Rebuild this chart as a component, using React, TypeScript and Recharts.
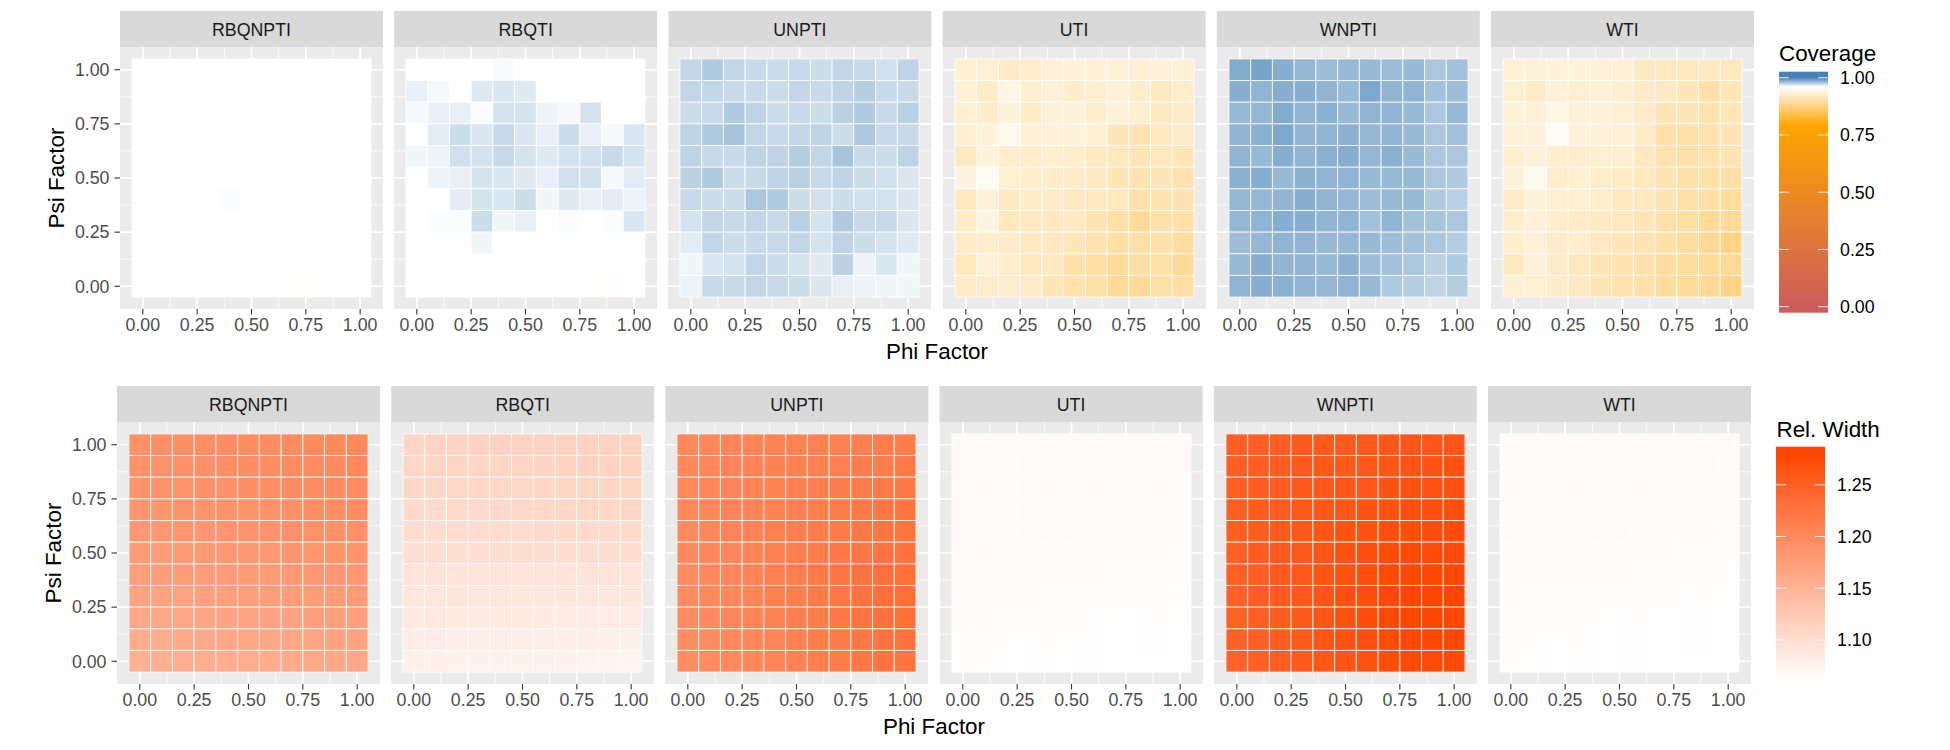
import React from 'react';
import { ComposedChart, XAxis, YAxis, CartesianGrid, ReferenceArea, Scatter } from 'recharts';

// ---------------- data ----------------
const methods = ['RBQNPTI', 'RBQTI', 'UNPTI', 'UTI', 'WNPTI', 'WTI'];
const phiValues = [0, 0.1, 0.2, 0.3, 0.4, 0.5, 0.6, 0.7, 0.8, 0.9, 1.0];
// rows listed from top (psi = 1.0) to bottom (psi = 0.0)
const psiValues = [1.0, 0.9, 0.8, 0.7, 0.6, 0.5, 0.4, 0.3, 0.2, 0.1, 0.0];
const axisTicks = [0, 0.25, 0.5, 0.75, 1];
const axisTickLabels = ['0.00', '0.25', '0.50', '0.75', '1.00'];
const minorTicks = [0.125, 0.375, 0.625, 0.875];
const coverageLegendBreaks = [0, 0.25, 0.5, 0.75, 1];
const coverageLegendLabels = ['0.00', '0.25', '0.50', '0.75', '1.00'];
const widthLegendBreaks = [1.1, 1.15, 1.2, 1.25];
const widthLegendLabels = ['1.10', '1.15', '1.20', '1.25'];

const coverageRBQNPTI = [
  [0.960, 0.960, 0.960, 0.960, 0.960, 0.960, 0.960, 0.960, 0.960, 0.960, 0.960],
  [0.960, 0.960, 0.960, 0.960, 0.960, 0.960, 0.960, 0.960, 0.960, 0.960, 0.960],
  [0.960, 0.960, 0.960, 0.960, 0.960, 0.960, 0.960, 0.960, 0.960, 0.960, 0.960],
  [0.960, 0.960, 0.960, 0.960, 0.960, 0.960, 0.960, 0.960, 0.960, 0.960, 0.960],
  [0.960, 0.960, 0.960, 0.960, 0.960, 0.960, 0.960, 0.960, 0.960, 0.960, 0.960],
  [0.960, 0.960, 0.960, 0.960, 0.960, 0.960, 0.960, 0.960, 0.960, 0.960, 0.960],
  [0.960, 0.960, 0.960, 0.960, 0.9608, 0.960, 0.960, 0.960, 0.960, 0.960, 0.960],
  [0.960, 0.960, 0.960, 0.960, 0.960, 0.960, 0.960, 0.960, 0.960, 0.960, 0.960],
  [0.960, 0.960, 0.960, 0.960, 0.960, 0.960, 0.960, 0.960, 0.960, 0.960, 0.960],
  [0.960, 0.960, 0.960, 0.960, 0.960, 0.960, 0.960, 0.960, 0.960, 0.960, 0.960],
  [0.960, 0.960, 0.960, 0.960, 0.960, 0.960, 0.960, 0.9595, 0.958, 0.9595, 0.960],
];
const coverageRBQTI = [
  [0.960, 0.960, 0.960, 0.960, 0.9615, 0.960, 0.960, 0.960, 0.960, 0.960, 0.960],
  [0.965, 0.962, 0.960, 0.967, 0.968, 0.967, 0.960, 0.960, 0.960, 0.960, 0.960],
  [0.962, 0.965, 0.965, 0.961, 0.969, 0.969, 0.964, 0.962, 0.969, 0.960, 0.960],
  [0.960, 0.966, 0.971, 0.968, 0.972, 0.968, 0.965, 0.971, 0.965, 0.962, 0.968],
  [0.963, 0.964, 0.970, 0.969, 0.972, 0.969, 0.967, 0.969, 0.970, 0.972, 0.969],
  [0.960, 0.964, 0.965, 0.969, 0.968, 0.967, 0.965, 0.970, 0.970, 0.962, 0.966],
  [0.960, 0.960, 0.966, 0.969, 0.968, 0.971, 0.963, 0.967, 0.965, 0.966, 0.964],
  [0.960, 0.961, 0.961, 0.971, 0.963, 0.965, 0.960, 0.961, 0.960, 0.961, 0.968],
  [0.960, 0.960, 0.960, 0.963, 0.960, 0.960, 0.960, 0.960, 0.960, 0.960, 0.960],
  [0.960, 0.960, 0.960, 0.960, 0.960, 0.960, 0.960, 0.960, 0.960, 0.960, 0.960],
  [0.960, 0.960, 0.960, 0.960, 0.960, 0.960, 0.960, 0.960, 0.958, 0.958, 0.960],
];
const coverageUNPTI = [
  [0.973, 0.977, 0.973, 0.972, 0.971, 0.972, 0.971, 0.973, 0.972, 0.970, 0.974],
  [0.973, 0.973, 0.972, 0.972, 0.971, 0.973, 0.972, 0.974, 0.976, 0.972, 0.972],
  [0.971, 0.972, 0.977, 0.974, 0.971, 0.972, 0.971, 0.975, 0.977, 0.972, 0.975],
  [0.974, 0.977, 0.979, 0.973, 0.972, 0.973, 0.974, 0.971, 0.978, 0.972, 0.972],
  [0.974, 0.972, 0.972, 0.974, 0.974, 0.976, 0.973, 0.979, 0.972, 0.971, 0.974],
  [0.975, 0.977, 0.971, 0.972, 0.974, 0.975, 0.972, 0.974, 0.971, 0.970, 0.968],
  [0.972, 0.971, 0.971, 0.978, 0.977, 0.971, 0.970, 0.971, 0.970, 0.969, 0.968],
  [0.969, 0.973, 0.972, 0.973, 0.972, 0.975, 0.969, 0.977, 0.972, 0.972, 0.968],
  [0.966, 0.973, 0.971, 0.972, 0.972, 0.973, 0.969, 0.974, 0.971, 0.969, 0.967],
  [0.963, 0.968, 0.969, 0.973, 0.971, 0.969, 0.967, 0.975, 0.964, 0.968, 0.963],
  [0.964, 0.972, 0.972, 0.973, 0.972, 0.971, 0.968, 0.965, 0.964, 0.963, 0.963],
];
const coverageUTI = [
  [0.931, 0.929, 0.923, 0.926, 0.933, 0.936, 0.933, 0.933, 0.931, 0.936, 0.933],
  [0.933, 0.923, 0.943, 0.929, 0.933, 0.926, 0.929, 0.933, 0.926, 0.919, 0.926],
  [0.929, 0.926, 0.936, 0.923, 0.933, 0.936, 0.926, 0.933, 0.929, 0.919, 0.923],
  [0.929, 0.936, 0.948, 0.933, 0.936, 0.936, 0.929, 0.912, 0.909, 0.919, 0.923],
  [0.919, 0.936, 0.926, 0.926, 0.929, 0.926, 0.919, 0.916, 0.912, 0.916, 0.912],
  [0.940, 0.952, 0.929, 0.926, 0.926, 0.923, 0.919, 0.912, 0.909, 0.912, 0.906],
  [0.919, 0.933, 0.919, 0.923, 0.923, 0.919, 0.919, 0.916, 0.902, 0.909, 0.906],
  [0.923, 0.940, 0.916, 0.919, 0.919, 0.919, 0.909, 0.902, 0.892, 0.902, 0.902],
  [0.923, 0.926, 0.923, 0.919, 0.919, 0.912, 0.906, 0.899, 0.902, 0.902, 0.895],
  [0.916, 0.933, 0.926, 0.916, 0.919, 0.902, 0.899, 0.892, 0.899, 0.902, 0.889],
  [0.923, 0.926, 0.926, 0.923, 0.912, 0.906, 0.902, 0.892, 0.892, 0.902, 0.899],
];
const coverageWNPTI = [
  [0.987, 0.989, 0.986, 0.983, 0.981, 0.982, 0.982, 0.981, 0.982, 0.978, 0.980],
  [0.986, 0.984, 0.986, 0.986, 0.984, 0.982, 0.988, 0.984, 0.984, 0.980, 0.981],
  [0.982, 0.983, 0.987, 0.984, 0.985, 0.982, 0.984, 0.984, 0.982, 0.978, 0.982],
  [0.984, 0.985, 0.988, 0.984, 0.984, 0.985, 0.983, 0.984, 0.982, 0.978, 0.980],
  [0.984, 0.982, 0.986, 0.984, 0.985, 0.986, 0.983, 0.985, 0.982, 0.978, 0.978],
  [0.985, 0.986, 0.982, 0.985, 0.984, 0.984, 0.982, 0.982, 0.982, 0.978, 0.977],
  [0.983, 0.983, 0.984, 0.986, 0.984, 0.983, 0.981, 0.982, 0.982, 0.977, 0.975],
  [0.983, 0.984, 0.986, 0.986, 0.984, 0.984, 0.980, 0.984, 0.980, 0.979, 0.978],
  [0.981, 0.983, 0.984, 0.984, 0.982, 0.983, 0.982, 0.981, 0.980, 0.978, 0.976],
  [0.982, 0.986, 0.984, 0.984, 0.982, 0.985, 0.981, 0.980, 0.978, 0.975, 0.977],
  [0.984, 0.986, 0.985, 0.984, 0.983, 0.984, 0.982, 0.977, 0.976, 0.974, 0.976],
];
const coverageWTI = [
  [0.933, 0.933, 0.936, 0.936, 0.933, 0.933, 0.919, 0.916, 0.916, 0.919, 0.916],
  [0.929, 0.923, 0.933, 0.929, 0.933, 0.929, 0.923, 0.919, 0.912, 0.902, 0.912],
  [0.933, 0.933, 0.943, 0.933, 0.936, 0.929, 0.923, 0.912, 0.912, 0.906, 0.912],
  [0.933, 0.936, 0.952, 0.936, 0.933, 0.933, 0.923, 0.902, 0.902, 0.906, 0.909],
  [0.929, 0.936, 0.926, 0.926, 0.929, 0.929, 0.919, 0.906, 0.902, 0.906, 0.909],
  [0.936, 0.950, 0.926, 0.929, 0.926, 0.923, 0.916, 0.909, 0.902, 0.902, 0.902],
  [0.923, 0.936, 0.929, 0.929, 0.926, 0.919, 0.916, 0.909, 0.902, 0.899, 0.895],
  [0.926, 0.933, 0.926, 0.923, 0.919, 0.916, 0.912, 0.902, 0.899, 0.892, 0.892],
  [0.926, 0.933, 0.923, 0.926, 0.916, 0.912, 0.909, 0.902, 0.895, 0.889, 0.878],
  [0.919, 0.936, 0.923, 0.916, 0.912, 0.909, 0.902, 0.895, 0.895, 0.892, 0.889],
  [0.929, 0.929, 0.923, 0.919, 0.912, 0.906, 0.902, 0.895, 0.892, 0.889, 0.878],
];

const widthRBQNPTI = [
  [1.192, 1.193, 1.193, 1.194, 1.195, 1.196, 1.197, 1.198, 1.199, 1.200, 1.201],
  [1.190, 1.191, 1.192, 1.193, 1.194, 1.195, 1.196, 1.197, 1.198, 1.199, 1.200],
  [1.188, 1.189, 1.190, 1.191, 1.192, 1.193, 1.194, 1.195, 1.196, 1.197, 1.198],
  [1.185, 1.186, 1.187, 1.188, 1.189, 1.190, 1.191, 1.192, 1.193, 1.194, 1.195],
  [1.182, 1.183, 1.184, 1.185, 1.186, 1.187, 1.188, 1.189, 1.190, 1.191, 1.192],
  [1.178, 1.179, 1.180, 1.181, 1.182, 1.183, 1.184, 1.185, 1.186, 1.187, 1.188],
  [1.174, 1.175, 1.176, 1.177, 1.178, 1.179, 1.180, 1.181, 1.182, 1.183, 1.184],
  [1.169, 1.170, 1.171, 1.172, 1.173, 1.174, 1.175, 1.176, 1.177, 1.178, 1.179],
  [1.164, 1.165, 1.166, 1.167, 1.168, 1.169, 1.170, 1.171, 1.172, 1.173, 1.174],
  [1.159, 1.160, 1.161, 1.162, 1.163, 1.164, 1.165, 1.166, 1.167, 1.168, 1.169],
  [1.154, 1.155, 1.156, 1.157, 1.158, 1.159, 1.160, 1.161, 1.162, 1.163, 1.164],
];
const widthRBQTI = [
  [1.110, 1.111, 1.111, 1.112, 1.112, 1.113, 1.113, 1.114, 1.114, 1.115, 1.115],
  [1.108, 1.109, 1.109, 1.110, 1.110, 1.111, 1.111, 1.112, 1.112, 1.113, 1.113],
  [1.106, 1.107, 1.107, 1.108, 1.108, 1.108, 1.109, 1.109, 1.109, 1.110, 1.110],
  [1.104, 1.104, 1.105, 1.105, 1.105, 1.106, 1.106, 1.106, 1.107, 1.107, 1.107],
  [1.101, 1.101, 1.102, 1.102, 1.102, 1.102, 1.103, 1.103, 1.103, 1.103, 1.103],
  [1.098, 1.098, 1.098, 1.098, 1.099, 1.099, 1.099, 1.099, 1.099, 1.099, 1.099],
  [1.094, 1.094, 1.094, 1.094, 1.094, 1.094, 1.094, 1.094, 1.094, 1.094, 1.094],
  [1.090, 1.090, 1.090, 1.090, 1.090, 1.089, 1.089, 1.089, 1.089, 1.089, 1.089],
  [1.086, 1.086, 1.086, 1.085, 1.085, 1.085, 1.085, 1.084, 1.084, 1.084, 1.084],
  [1.082, 1.082, 1.081, 1.081, 1.081, 1.080, 1.080, 1.079, 1.079, 1.078, 1.078],
  [1.078, 1.078, 1.077, 1.077, 1.076, 1.076, 1.075, 1.075, 1.074, 1.074, 1.073],
];
const widthUNPTI = [
  [1.201, 1.203, 1.205, 1.207, 1.208, 1.209, 1.210, 1.211, 1.212, 1.214, 1.216],
  [1.201, 1.203, 1.205, 1.207, 1.209, 1.210, 1.211, 1.212, 1.214, 1.216, 1.218],
  [1.200, 1.203, 1.205, 1.207, 1.209, 1.211, 1.212, 1.214, 1.216, 1.218, 1.220],
  [1.200, 1.203, 1.205, 1.207, 1.209, 1.211, 1.213, 1.216, 1.218, 1.221, 1.223],
  [1.199, 1.202, 1.205, 1.207, 1.210, 1.212, 1.214, 1.217, 1.220, 1.223, 1.225],
  [1.199, 1.202, 1.204, 1.207, 1.210, 1.213, 1.216, 1.219, 1.222, 1.226, 1.228],
  [1.198, 1.201, 1.204, 1.207, 1.210, 1.213, 1.217, 1.221, 1.224, 1.229, 1.230],
  [1.198, 1.200, 1.203, 1.206, 1.210, 1.213, 1.217, 1.221, 1.225, 1.230, 1.231],
  [1.197, 1.199, 1.202, 1.205, 1.209, 1.212, 1.216, 1.220, 1.224, 1.229, 1.230],
  [1.196, 1.198, 1.201, 1.204, 1.207, 1.211, 1.214, 1.218, 1.222, 1.226, 1.228],
  [1.195, 1.197, 1.200, 1.203, 1.206, 1.209, 1.213, 1.216, 1.220, 1.224, 1.226],
];
const widthUTI = [
  [1.067, 1.067, 1.067, 1.066, 1.067, 1.067, 1.067, 1.067, 1.066, 1.066, 1.066],
  [1.067, 1.067, 1.066, 1.066, 1.066, 1.067, 1.067, 1.066, 1.066, 1.066, 1.066],
  [1.066, 1.067, 1.066, 1.066, 1.066, 1.066, 1.066, 1.066, 1.066, 1.066, 1.065],
  [1.066, 1.066, 1.066, 1.066, 1.066, 1.066, 1.066, 1.066, 1.066, 1.065, 1.065],
  [1.066, 1.066, 1.066, 1.066, 1.066, 1.066, 1.065, 1.065, 1.065, 1.065, 1.065],
  [1.066, 1.066, 1.065, 1.065, 1.065, 1.065, 1.065, 1.065, 1.065, 1.065, 1.064],
  [1.065, 1.065, 1.065, 1.065, 1.065, 1.065, 1.065, 1.064, 1.064, 1.064, 1.064],
  [1.065, 1.065, 1.065, 1.065, 1.064, 1.064, 1.064, 1.064, 1.064, 1.064, 1.063],
  [1.065, 1.065, 1.064, 1.064, 1.064, 1.064, 1.063, 1.063, 1.063, 1.063, 1.063],
  [1.064, 1.064, 1.063, 1.063, 1.063, 1.063, 1.063, 1.062, 1.062, 1.062, 1.062],
  [1.064, 1.063, 1.063, 1.063, 1.062, 1.062, 1.062, 1.061, 1.061, 1.061, 1.061],
];
const widthWNPTI = [
  [1.250, 1.252, 1.254, 1.256, 1.257, 1.258, 1.259, 1.260, 1.261, 1.262, 1.262],
  [1.250, 1.252, 1.254, 1.256, 1.258, 1.259, 1.260, 1.262, 1.263, 1.264, 1.264],
  [1.250, 1.252, 1.255, 1.257, 1.259, 1.261, 1.262, 1.264, 1.266, 1.267, 1.267],
  [1.250, 1.253, 1.255, 1.258, 1.260, 1.262, 1.264, 1.267, 1.269, 1.270, 1.270],
  [1.250, 1.253, 1.256, 1.259, 1.261, 1.264, 1.267, 1.270, 1.272, 1.273, 1.273],
  [1.249, 1.253, 1.256, 1.259, 1.262, 1.266, 1.269, 1.273, 1.275, 1.276, 1.276],
  [1.249, 1.252, 1.256, 1.259, 1.263, 1.267, 1.271, 1.275, 1.278, 1.279, 1.279],
  [1.248, 1.252, 1.255, 1.259, 1.263, 1.268, 1.272, 1.277, 1.280, 1.281, 1.280],
  [1.247, 1.251, 1.254, 1.258, 1.262, 1.267, 1.272, 1.277, 1.279, 1.280, 1.279],
  [1.246, 1.250, 1.253, 1.257, 1.261, 1.265, 1.270, 1.274, 1.277, 1.278, 1.277],
  [1.245, 1.249, 1.252, 1.256, 1.259, 1.263, 1.267, 1.271, 1.274, 1.275, 1.274],
];
const widthWTI = [
  [1.066, 1.066, 1.067, 1.067, 1.067, 1.067, 1.066, 1.066, 1.066, 1.066, 1.066],
  [1.066, 1.066, 1.066, 1.067, 1.067, 1.066, 1.066, 1.066, 1.066, 1.066, 1.065],
  [1.066, 1.066, 1.066, 1.066, 1.066, 1.066, 1.066, 1.066, 1.065, 1.065, 1.065],
  [1.066, 1.066, 1.066, 1.066, 1.066, 1.066, 1.066, 1.065, 1.065, 1.065, 1.065],
  [1.066, 1.065, 1.066, 1.066, 1.066, 1.066, 1.065, 1.065, 1.065, 1.065, 1.064],
  [1.065, 1.065, 1.065, 1.065, 1.065, 1.065, 1.065, 1.065, 1.064, 1.064, 1.064],
  [1.065, 1.065, 1.065, 1.065, 1.065, 1.065, 1.064, 1.064, 1.064, 1.064, 1.063],
  [1.065, 1.064, 1.064, 1.064, 1.064, 1.064, 1.064, 1.064, 1.063, 1.063, 1.063],
  [1.064, 1.064, 1.064, 1.064, 1.063, 1.063, 1.063, 1.063, 1.063, 1.062, 1.062],
  [1.064, 1.063, 1.063, 1.063, 1.063, 1.062, 1.062, 1.062, 1.062, 1.062, 1.061],
  [1.063, 1.063, 1.063, 1.062, 1.062, 1.062, 1.062, 1.061, 1.061, 1.061, 1.060],
];

const coverageGrids = [coverageRBQNPTI, coverageRBQTI, coverageUNPTI, coverageUTI, coverageWNPTI, coverageWTI];
const widthGrids = [widthRBQNPTI, widthRBQTI, widthUNPTI, widthUTI, widthWNPTI, widthWTI];

// ---------------- styling / layout ----------------
const FONT = '"Liberation Sans", Arial, Helvetica, sans-serif';
const TICK_FS = 17.8;
const TITLE_FS = 22.4;
const PW = 263;
const PH = 262;
const XH = 34;
const YW = 70;
const PITCH = 274.2;
const DOMAIN: [number, number] = [-0.105, 1.105];
const HALF = 0.05;

const coverageStops: [number, string][] = [
  [0, '#CD5C5C'],
  [0.79, '#FFA500'],
  [0.96, '#FFFFFF'],
  [1.0, '#4682B4'],
];

function hexToRgb(h: string) {
  const n = parseInt(h.slice(1), 16);
  return [(n >> 16) & 255, (n >> 8) & 255, n & 255];
}
function rgbToHex(c: number[]) {
  return '#' + c.map((x) => Math.round(Math.max(0, Math.min(255, x))).toString(16).padStart(2, '0')).join('');
}
function mixHex(a: string, b: string, t: number) {
  const A = hexToRgb(a);
  const B = hexToRgb(b);
  return rgbToHex([0, 1, 2].map((i) => A[i] + (B[i] - A[i]) * t));
}
function coverageColor(v: number) {
  const x = Math.max(0, Math.min(1, v));
  for (let i = 0; i < coverageStops.length - 1; i++) {
    const [a, ca] = coverageStops[i];
    const [b, cb] = coverageStops[i + 1];
    if (x >= a && x <= b) return mixHex(ca, cb, (x - a) / (b - a));
  }
  return coverageStops[coverageStops.length - 1][1];
}
const allWidths = widthGrids.flat(2);
const widthMin = Math.min(...allWidths);
const widthMax = Math.max(...allWidths);
function widthColor(v: number) {
  const t = Math.max(0, Math.min(1, (v - widthMin) / (widthMax - widthMin)));
  return mixHex('#FFFFFF', '#FF4500', t);
}

function buildCells(grid: number[][]) {
  const out: { phi: number; psi: number; value: number }[] = [];
  grid.forEach((row, r) =>
    row.forEach((value, c) => out.push({ phi: phiValues[c], psi: psiValues[r], value }))
  );
  return out;
}

const tickLabel = (v: number) => {
  const i = axisTicks.findIndex((t) => Math.abs(t - v) < 1e-9);
  return i >= 0 ? axisTickLabels[i] : String(v);
};

function HeatPanel(props: {
  left: number;
  top: number;
  grid: number[][];
  colorOf: (v: number) => string;
  showY: boolean;
}) {
  const { left, top, grid, colorOf, showY } = props;
  const cells = buildCells(grid);
  const chartLeft = showY ? left - YW : left;
  return (
    <div style={{ position: 'absolute', left: chartLeft, top }}>
      <ComposedChart
        width={PW + (showY ? YW : 0)}
        height={PH + XH}
        data={cells}
        margin={{ top: 0, right: 0, bottom: 0, left: 0 }}
      >
        <CartesianGrid
          fill="#EBEBEB"
          stroke="#FFFFFF"
          strokeWidth={0.8}
          verticalValues={minorTicks}
          horizontalValues={minorTicks}
        />
        <CartesianGrid
          stroke="#FFFFFF"
          strokeWidth={1.7}
          verticalValues={axisTicks}
          horizontalValues={axisTicks}
        />
        <XAxis
          type="number"
          dataKey="phi"
          domain={DOMAIN}
          allowDataOverflow
          ticks={axisTicks}
          interval={0}
          tickFormatter={tickLabel}
          height={XH}
          tickSize={5.5}
          tickMargin={4}
          axisLine={false}
          tickLine={{ stroke: '#333333', strokeWidth: 1.1 }}
          tick={{ fill: '#4D4D4D', fontSize: TICK_FS, fontFamily: FONT }}
        />
        <YAxis
          type="number"
          dataKey="psi"
          domain={DOMAIN}
          allowDataOverflow
          ticks={axisTicks}
          interval={0}
          tickFormatter={tickLabel}
          width={YW}
          hide={!showY}
          tickSize={5.5}
          tickMargin={5}
          axisLine={false}
          tickLine={{ stroke: '#333333', strokeWidth: 1.1 }}
          tick={{ fill: '#4D4D4D', fontSize: TICK_FS, fontFamily: FONT }}
        />
        {cells.map((c, i) => (
          <ReferenceArea
            key={i}
            x1={c.phi - HALF}
            x2={c.phi + HALF}
            y1={c.psi - HALF}
            y2={c.psi + HALF}
            fill={colorOf(c.value)}
            fillOpacity={1}
            stroke="#FFFFFF"
            strokeWidth={0.8}
            ifOverflow="visible"
          />
        ))}
        <Scatter dataKey="psi" isAnimationActive={false} fill="none" shape={() => <g />} />
      </ComposedChart>
    </div>
  );
}

function ColorBar(props: {
  id: string;
  x: number;
  y: number;
  w: number;
  h: number;
  lo: number;
  hi: number;
  colorOf: (v: number) => string;
  breaks: number[];
  labels: string[];
  title: string;
  titleX: number;
  titleY: number;
}) {
  const { id, x, y, w, h, lo, hi, colorOf, breaks, labels, title, titleX, titleY } = props;
  const pad = h / 40;
  const vy = (v: number) => y + pad + (1 - (v - lo) / (hi - lo)) * (h - 2 * pad);
  const stops = [];
  const N = 80;
  for (let k = 0; k <= N; k++) {
    const o = k / N;
    const py = y + o * h;
    const v = lo + (1 - (py - y - pad) / (h - 2 * pad)) * (hi - lo);
    stops.push(<stop key={k} offset={o} stopColor={colorOf(Math.max(lo, Math.min(hi, v)))} />);
  }
  return (
    <g>
      <defs>
        <linearGradient id={id} x1="0" y1="0" x2="0" y2="1">
          {stops}
        </linearGradient>
      </defs>
      <text x={titleX} y={titleY} fontSize={TITLE_FS} fontFamily={FONT} fill="#000000">
        {title}
      </text>
      <rect x={x} y={y} width={w} height={h} fill={`url(#${id})`} />
      {breaks.map((b, i) => (
        <g key={i}>
          <line x1={x} x2={x + w / 5} y1={vy(b)} y2={vy(b)} stroke="#FFFFFF" strokeOpacity={0.85} strokeWidth={1} />
          <line x1={x + w - w / 5} x2={x + w} y1={vy(b)} y2={vy(b)} stroke="#FFFFFF" strokeOpacity={0.85} strokeWidth={1} />
          <text x={x + w + 12} y={vy(b) + 6.3} fontSize={TICK_FS} fontFamily={FONT} fill="#000000">
            {labels[i]}
          </text>
        </g>
      ))}
    </g>
  );
}

const topLeft0 = 120;
const bottomLeft0 = 117;
const topStripY = 11;
const bottomStripY = 386;
const STRIP_H = 36;

export default function App() {
  const topLefts = methods.map((_, i) => topLeft0 + i * PITCH);
  const bottomLefts = methods.map((_, i) => bottomLeft0 + i * PITCH);
  return (
    <div style={{ position: 'absolute', left: 0, top: 0, width: 1950, height: 750, background: '#FFFFFF', fontFamily: FONT }}>
      <svg width={1950} height={750} style={{ position: 'absolute', left: 0, top: 0 }}>
        {methods.map((m, i) => (
          <g key={'ts' + i}>
            <rect x={topLefts[i]} y={topStripY} width={PW} height={STRIP_H} fill="#D9D9D9" />
            <text x={topLefts[i] + PW / 2} y={topStripY + 24.8} textAnchor="middle" fontSize={TICK_FS} fontFamily={FONT} fill="#1A1A1A">
              {m}
            </text>
            <rect x={bottomLefts[i]} y={bottomStripY} width={PW} height={STRIP_H} fill="#D9D9D9" />
            <text x={bottomLefts[i] + PW / 2} y={bottomStripY + 24.8} textAnchor="middle" fontSize={TICK_FS} fontFamily={FONT} fill="#1A1A1A">
              {m}
            </text>
          </g>
        ))}
        <text x={(topLefts[0] + topLefts[5] + PW) / 2} y={359} textAnchor="middle" fontSize={TITLE_FS} fontFamily={FONT} fill="#000000">
          Phi Factor
        </text>
        <text x={(bottomLefts[0] + bottomLefts[5] + PW) / 2} y={734} textAnchor="middle" fontSize={TITLE_FS} fontFamily={FONT} fill="#000000">
          Phi Factor
        </text>
        <text transform={`translate(63.5, ${47 + PH / 2}) rotate(-90)`} textAnchor="middle" fontSize={TITLE_FS} fontFamily={FONT} fill="#000000">
          Psi Factor
        </text>
        <text transform={`translate(61, ${422 + PH / 2}) rotate(-90)`} textAnchor="middle" fontSize={TITLE_FS} fontFamily={FONT} fill="#000000">
          Psi Factor
        </text>
        <ColorBar
          id="covGrad"
          x={1779}
          y={71.7}
          w={49}
          h={241}
          lo={0}
          hi={1}
          colorOf={coverageColor}
          breaks={coverageLegendBreaks}
          labels={coverageLegendLabels}
          title="Coverage"
          titleX={1779}
          titleY={61}
        />
        <ColorBar
          id="widthGrad"
          x={1776}
          y={446.7}
          w={49}
          h={240.6}
          lo={widthMin}
          hi={widthMax}
          colorOf={widthColor}
          breaks={widthLegendBreaks}
          labels={widthLegendLabels}
          title="Rel. Width"
          titleX={1776.5}
          titleY={436.5}
        />
      </svg>
      {methods.map((m, i) => (
        <HeatPanel key={'top' + m} left={topLefts[i]} top={47} grid={coverageGrids[i]} colorOf={coverageColor} showY={i === 0} />
      ))}
      {methods.map((m, i) => (
        <HeatPanel key={'bot' + m} left={bottomLefts[i]} top={422} grid={widthGrids[i]} colorOf={widthColor} showY={i === 0} />
      ))}
    </div>
  );
}
